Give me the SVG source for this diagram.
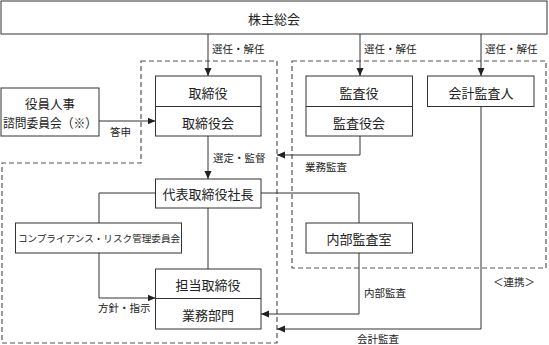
<svg xmlns="http://www.w3.org/2000/svg" width="549" height="345" viewBox="0 0 549 345">
<style>
.box{fill:#fff;stroke:#333;stroke-width:1}
.ln{fill:none;stroke:#333;stroke-width:1}
.dash{fill:none;stroke:#555;stroke-width:1.2;stroke-dasharray:5 3}
text{font-family:"Noto Sans CJK JP","Liberation Serif",serif;fill:#222;dominant-baseline:central;text-anchor:middle}
.t{font-size:13px}
.s{font-size:10.5px}
.l{text-anchor:start}
</style>
<defs>
<marker id="ah" viewBox="0 0 8 8" refX="8" refY="4" markerWidth="8" markerHeight="8" markerUnits="userSpaceOnUse" orient="auto">
<path d="M0,0.5 L8,4 L0,7.5 Z" fill="#222"/>
</marker>
</defs>
<rect width="549" height="345" fill="#fff"/>
<g id="groups">
<path class="dash" d="M141,61 H277 V343 H2 V163 H141 Z"/>
<rect class="dash" x="292" y="61" width="254" height="207"/>
<text class="s" x="514" y="281">＜連携＞</text>
</g>
<g id="connectors">
<path class="ln" d="M208,34 V76" marker-end="url(#ah)"/>
<text class="s l" x="212" y="48">選任・解任</text>
<path class="ln" d="M360,34 V76" marker-end="url(#ah)"/>
<text class="s l" x="364" y="48">選任・解任</text>
<path class="ln" d="M481,34 V76" marker-end="url(#ah)"/>
<text class="s l" x="485" y="48">選任・解任</text>
<path class="ln" d="M99,121 H155.5" marker-end="url(#ah)"/>
<text class="s l" x="110" y="131">答申</text>
<path class="ln" d="M208,136 V179" marker-end="url(#ah)"/>
<text class="s l" x="213" y="157">選定・監督</text>
<path class="ln" d="M360,136 V155 H277" marker-end="url(#ah)"/>
<text class="s l" x="305" y="166">業務監査</text>
<path class="ln" d="M155.5,193 H99 V223"/>
<path class="ln" d="M261,193 H359 V223"/>
<path class="ln" d="M208,208 V269"/>
<path class="ln" d="M99,253 V298 H155.5" marker-end="url(#ah)"/>
<text class="s l" x="98" y="307">方針・指示</text>
<path class="ln" d="M359,253 V314 H261" marker-end="url(#ah)"/>
<text class="s l" x="364" y="292">内部監査</text>
<path class="ln" d="M481,107 V329 H277" marker-end="url(#ah)"/>
<text class="s l" x="357" y="338">会計監査</text>
</g>
<g id="shareholders">
<rect class="box" x="1" y="1" width="546" height="33"/>
<text class="t" x="274" y="18">株主総会</text>
</g>
<g id="nomination">
<rect class="box" x="1" y="88" width="98" height="48"/>
<text x="50" y="103" style="font-size:12.5px">役員人事</text>
<text x="50" y="122" style="font-size:12.5px" textLength="94" lengthAdjust="spacingAndGlyphs">諮問委員会（※）</text>
</g>
<g id="board">
<rect class="box" x="155.5" y="76" width="105.5" height="60"/>
<path class="ln" d="M155.5,106.5 H261"/>
<text class="t" x="208" y="92">取締役</text>
<text class="t" x="208" y="122">取締役会</text>
</g>
<g id="auditors">
<rect class="box" x="306" y="76" width="106.5" height="60"/>
<path class="ln" d="M306,106.5 H412.5"/>
<text class="t" x="359" y="92">監査役</text>
<text class="t" x="359" y="122">監査役会</text>
</g>
<g id="accounting-auditor">
<rect class="box" x="427.5" y="76" width="106.5" height="30.5"/>
<text class="t" x="481" y="92">会計監査人</text>
</g>
<g id="president">
<rect class="box" x="155.5" y="179" width="105.5" height="29"/>
<text class="t" x="208" y="193">代表取締役社長</text>
</g>
<g id="compliance">
<rect class="box" x="15.5" y="223" width="166" height="30"/>
<text x="99" y="238" style="font-size:9.6px">コンプライアンス・リスク管理委員会</text>
</g>
<g id="internal-audit">
<rect class="box" x="306" y="223" width="106.5" height="30"/>
<text class="t" x="359" y="238">内部監査室</text>
</g>
<g id="operations">
<rect class="box" x="155.5" y="269" width="105.5" height="60"/>
<path class="ln" d="M155.5,298.5 H261"/>
<text class="t" x="208" y="284">担当取締役</text>
<text class="t" x="208" y="314">業務部門</text>
</g>
</svg>
